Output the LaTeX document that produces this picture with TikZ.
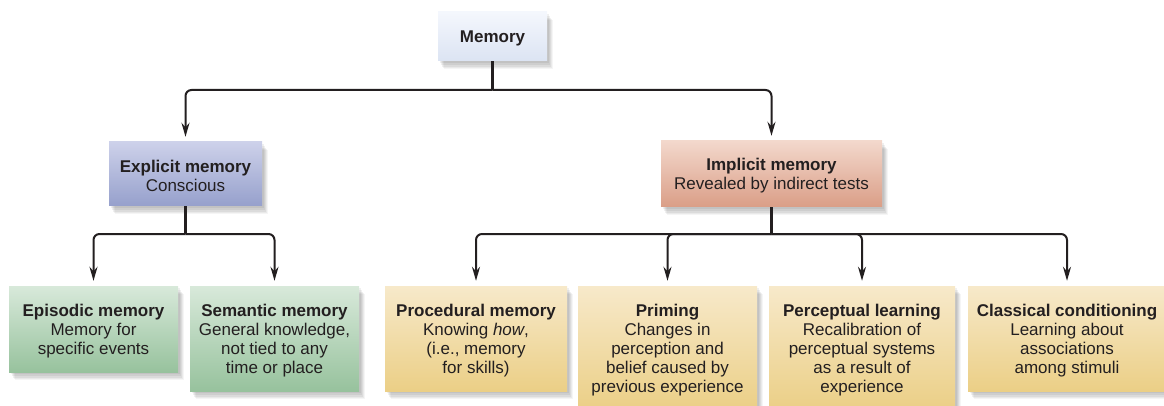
\documentclass[tikz,border=0pt]{standalone}
\usepackage{fontspec}
\setmainfont{Liberation Sans}
\usetikzlibrary{arrows.meta,shadows}
\definecolor{txt}{HTML}{231F20}
\definecolor{memtop}{HTML}{F4F7FD}
\definecolor{membot}{HTML}{DCE4F3}
\definecolor{exptop}{HTML}{CDD1EA}
\definecolor{expbot}{HTML}{96A0CC}
\definecolor{imptop}{HTML}{F3D8CC}
\definecolor{impbot}{HTML}{DA9E87}
\definecolor{grntop}{HTML}{D8E9DA}
\definecolor{grnbot}{HTML}{97C29D}
\definecolor{yeltop}{HTML}{F7E9CA}
\definecolor{yelbot}{HTML}{EBCF86}
\tikzset{
  softshadow/.style={
    general shadow={fill=black,opacity=0.06,shadow xshift=2pt,shadow yshift=-2pt},
    general shadow={fill=black,opacity=0.06,shadow xshift=3pt,shadow yshift=-4pt},
    general shadow={fill=black,opacity=0.06,shadow xshift=4pt,shadow yshift=-6pt},
    general shadow={fill=black,opacity=0.05,shadow xshift=5pt,shadow yshift=-7pt},
    general shadow={fill=black,opacity=0.04,shadow xshift=6pt,shadow yshift=-8pt}},
  box/.style={softshadow,inner sep=0pt},
  lbl/.style={yshift=-2pt,inner sep=0pt,align=center,text=txt,
    font=\fontsize{17}{19}\selectfont},
  membox/.style={box,top color=memtop,bottom color=membot},
  expbox/.style={box,top color=exptop,bottom color=expbot},
  impbox/.style={box,top color=imptop,bottom color=impbot},
  grnbox/.style={box,top color=grntop,bottom color=grnbot},
  yelbox/.style={box,top color=yeltop,bottom color=yelbot},
  conn/.style={draw=txt,line width=2pt,rounded corners=6pt,
    -{Stealth[length=14pt,width=8pt]},shorten >=5pt},
  stem/.style={draw=txt,line width=3pt}
}
\begin{document}
\begin{tikzpicture}[x=1pt,y=-1pt]
\clip (0,0) rectangle (1164,406);
\node[membox,minimum width=109,minimum height=49,
  label={[lbl]center:\textbf{Memory}}] (mem) at (492.5,36.5) {};
\node[expbox,minimum width=153,minimum height=64,
  label={[lbl]center:{\textbf{Explicit memory}\\Conscious}}] (exp) at (185.5,174) {};
\node[impbox,minimum width=221,minimum height=66,
  label={[lbl]center:{\textbf{Implicit memory}\\Revealed by indirect tests}}] (imp) at (771.5,174) {};
\node[grnbox,minimum width=169,minimum height=86,
  label={[lbl]center:{\textbf{Episodic memory}\\Memory for\\specific events}}] (epi) at (93.5,329) {};
\node[grnbox,minimum width=169,minimum height=105,
  label={[lbl]center:{\textbf{Semantic memory}\\General knowledge,\\not tied to any\\time or place}}] (sem) at (274.5,338.5) {};
\node[yelbox,minimum width=182,minimum height=105,
  label={[lbl]center:{\textbf{Procedural memory}\\Knowing \textit{how},\\(i.e., memory\\for skills)}}] (pro) at (476,338.5) {};
\node[yelbox,minimum width=179,minimum height=124,
  label={[lbl]center:{\textbf{Priming}\\Changes in\\perception and\\belief caused by\\previous experience}}] (pri) at (667.5,348) {};
\node[yelbox,minimum width=186,minimum height=124,
  label={[lbl]center:{\textbf{Perceptual learning}\\Recalibration of\\perceptual systems\\as a result of\\experience}}] (per) at (862,348) {};
\node[yelbox,minimum width=198,minimum height=105,
  label={[lbl]center:{\textbf{Classical conditioning}\\Learning about\\associations\\among stimuli}}] (cla) at (1067,338.5) {};
\coordinate (j1) at (492.5,90);
\coordinate (j2) at (185.5,234);
\coordinate (j3) at (771.5,234);
\draw[stem] (mem.south) -- (j1);
\draw[conn] (j1) -| (exp.north);
\draw[conn] (j1) -| (imp.north);
\draw[stem] (exp.south) -- (j2);
\draw[conn] (j2) -| (epi.north);
\draw[conn] (j2) -| (sem.north);
\draw[stem] (imp.south) -- (j3);
\draw[conn] (j3) -| (pro.north);
\draw[conn] (j3) -| (pri.north);
\draw[conn] (j3) -| (per.north);
\draw[conn] (j3) -| (cla.north);
\end{tikzpicture}
\end{document}
